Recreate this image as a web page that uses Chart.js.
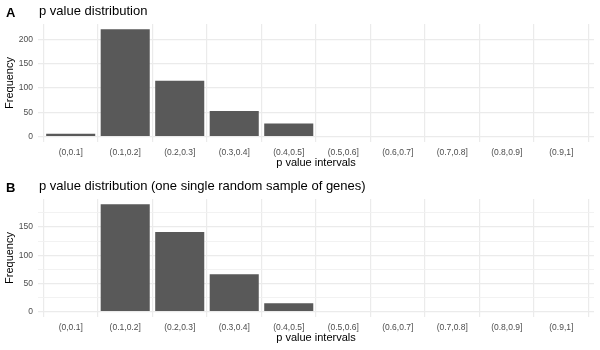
<!DOCTYPE html>
<html>
<head>
<meta charset="utf-8">
<script src="https://cdn.jsdelivr.net/npm/chart.js@4"></script>
<style>
  body { margin: 0; background: #fff; }
  .panel { width: 600px; height: 175px; }
</style>
</head>
<body>
<div class="panel"><canvas id="chartA" width="600" height="175"></canvas></div>
<div class="panel"><canvas id="chartB" width="600" height="175"></canvas></div>
<script>
// p value bins shared by both panels
const categories = ["(0,0.1]", "(0.1,0.2]", "(0.2,0.3]", "(0.3,0.4]", "(0.4,0.5]",
                    "(0.5,0.6]", "(0.6,0.7]", "(0.7,0.8]", "(0.8,0.9]", "(0.9,1]"];
// panel A: all genes
const freqA = [6, 221, 115, 53, 27, 0, 0, 0, 0, 0];
// panel B: one single random sample of genes
const freqB = [0, 190, 141, 66, 15, 0, 0, 0, 0, 0];

const titleA = "p value distribution";
const titleB = "p value distribution (one single random sample of genes)";
const xTitle = "p value intervals";
const yTitle = "Frequency";

const FONT = '"Liberation Sans", Arial, Helvetica, sans-serif';

// draws the tag letter and the panel title above the plot
const panelTitle = {
  id: "panelTitle",
  afterDraw(chart, args, opts) {
    const { ctx, chartArea } = chart;
    ctx.save();
    ctx.fillStyle = "#000";
    ctx.textBaseline = "alphabetic";
    ctx.textAlign = "left";
    ctx.font = "bold 13px " + FONT;
    ctx.fillText(opts.tag, 6, 17);
    ctx.font = "13px " + FONT;
    ctx.fillText(opts.text, chartArea.left + 1, 15);
    ctx.restore();
  },
};

function makeChart(canvasId, values, tag, title) {
  const maxVal = Math.max(...values);
  return new Chart(document.getElementById(canvasId), {
    type: "bar",
    data: {
      datasets: [{
        data: values.map((v, i) => ({ x: i, y: v })),
        backgroundColor: "#595959",
        borderWidth: 0,
        categoryPercentage: 0.9,
        barPercentage: 1.0,
      }],
    },
    options: {
      responsive: false,
      animation: false,
      events: [],
      layout: { padding: { top: 24, right: 6, left: 0, bottom: 0 } },
      plugins: {
        legend: { display: false },
        tooltip: { enabled: false },
        panelTitle: { tag: tag, text: title },
      },
      scales: {
        x: {
          type: "linear",
          min: -0.6,
          max: categories.length - 1 + 0.6,
          offset: false,
          border: { display: false },
          grid: { color: "#ebebeb", lineWidth: 1.2, drawTicks: false },
          ticks: {
            stepSize: 1,
            includeBounds: false,
            autoSkip: false,
            maxRotation: 0,
            padding: 6,
            color: "#4d4d4d",
            font: { family: FONT, size: 8.5 },
            callback: (v) => categories[v] ?? "",
          },
          title: {
            display: true,
            text: xTitle,
            color: "#000",
            font: { family: FONT, size: 11 },
            padding: { top: 0, bottom: 5 },
          },
          afterFit: (scale) => { scale.height = 33; },
        },
        y: {
          min: -maxVal * 0.05,
          max: maxVal * 1.05,
          border: { display: false },
          grid: {
            drawTicks: false,
            color: (c) => (c.tick && c.tick.value % 50 === 0 ? "#ebebeb" : "#f1f1f1"),
            lineWidth: (c) => (c.tick && c.tick.value % 50 === 0 ? 1.2 : 0.9),
          },
          ticks: {
            stepSize: 25,
            includeBounds: false,
            padding: 5,
            color: "#4d4d4d",
            font: { family: FONT, size: 8.5 },
            callback: (v) => (v % 50 === 0 ? v : ""),
          },
          title: {
            display: true,
            text: yTitle,
            color: "#000",
            font: { family: FONT, size: 11 },
            padding: { top: 3, bottom: 0 },
          },
          afterFit: (scale) => { scale.width = 38; },
        },
      },
    },
    plugins: [panelTitle],
  });
}

makeChart("chartA", freqA, "A", titleA);
makeChart("chartB", freqB, "B", titleB);
</script>
</body>
</html>
